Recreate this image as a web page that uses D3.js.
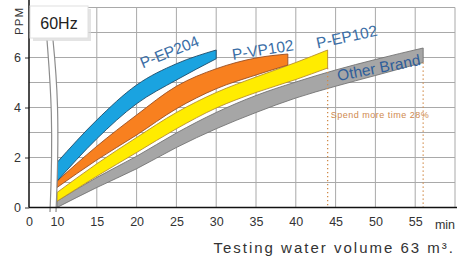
<!DOCTYPE html>
<html>
<head>
<meta charset="utf-8">
<script src="https://cdn.jsdelivr.net/npm/d3@7"></script>
<style>
  body { margin: 0; background: #fff; }
  svg { display: block; font-family: "Liberation Sans", Arial, sans-serif; }
</style>
</head>
<body>
<svg id="chart" width="457" height="259"></svg>
<script>
// values (minutes, ppm)
var ep204Time = [10, 15, 20, 25, 30];
var ep204Low  = [1.05, 2.75, 4.15, 5.1, 5.95];
var ep204High = [1.8, 3.5, 4.9, 5.75, 6.3];

var vp102Time = [10, 15, 20, 25, 30, 35, 39];
var vp102Low  = [0.8, 1.9, 2.9, 3.95, 4.75, 5.3, 5.7];
var vp102High = [1.05, 2.45, 3.7, 4.85, 5.55, 5.98, 6.14];

var ep102Time = [10, 15, 20, 25, 30, 35, 40, 44];
var ep102Low  = [0.25, 1.25, 2.2, 3.15, 3.98, 4.6, 5.12, 5.58];
var ep102High = [0.6, 1.75, 2.8, 3.8, 4.6, 5.22, 5.8, 6.3];

var otherTime = [10, 15, 20, 25, 30, 35, 40, 45, 50, 56];
var otherLow  = [0.0, 0.8, 1.55, 2.4, 3.15, 3.8, 4.38, 4.85, 5.28, 5.8];
var otherHigh = [0.25, 1.2, 2.05, 2.98, 3.8, 4.48, 5.02, 5.5, 5.92, 6.38];

var xTicks = [0, 10, 15, 20, 25, 30, 35, 40, 45, 50, 55];
var xGrid = [15, 20, 25, 30, 35, 40, 45, 50, 55, 60];
var yTicks = [0, 2, 4, 6];
var yGrid = [1, 2, 3, 4, 5, 6, 7, 8];
var markTimes = [44, 56];

var svg = d3.select("#chart");

// broken axis: 0..10 squeezed
var x = d3.scaleLinear().domain([0, 10, 60]).range([29, 57, 455]);
var y = d3.scaleLinear().domain([0, 8]).range([207.5, 7.5]);

// grid
svg.append("g").selectAll("line").data(xGrid).enter().append("line")
    .attr("x1", function(d) { return x(d); }).attr("x2", function(d) { return x(d); })
    .attr("y1", y(8)).attr("y2", y(0))
    .attr("stroke", "#a9a9a9").attr("stroke-width", 1);
svg.append("g").selectAll("line").data(yGrid).enter().append("line")
    .attr("x1", x(0)).attr("x2", x(60))
    .attr("y1", function(d) { return y(d); }).attr("y2", function(d) { return y(d); })
    .attr("stroke", "#a9a9a9").attr("stroke-width", 1);

// bands
function band(time, low, high) {
    return time.map(function(t, i) { return {t: t, lo: low[i], hi: high[i]}; });
}
var bands = [
    {data: band(otherTime, otherLow, otherHigh), fill: "#a6a6a6", stroke: "#747474"},
    {data: band(ep102Time, ep102Low, ep102High), fill: "#ffec00", stroke: "#b8902e"},
    {data: band(vp102Time, vp102Low, vp102High), fill: "#f8801f", stroke: "#9a4e22"},
    {data: band(ep204Time, ep204Low, ep204High), fill: "#1aa3e0", stroke: "#1e4c6a"}
];
var area = d3.area()
    .x(function(d) { return x(d.t); })
    .y0(function(d) { return y(d.lo); })
    .y1(function(d) { return y(d.hi); })
    .curve(d3.curveMonotoneX);

svg.append("g").selectAll("path").data(bands).enter().append("path")
    .attr("d", function(d) { return area(d.data); })
    .attr("fill", function(d) { return d.fill; })
    .attr("stroke", function(d) { return d.stroke; })
    .attr("stroke-width", 0.9);

// dotted markers
var otherEnd = otherLow[otherLow.length - 1];
svg.append("g").selectAll("line").data(markTimes).enter().append("line")
    .attr("x1", function(d) { return x(d); }).attr("x2", function(d) { return x(d); })
    .attr("y1", function(d, i) { return i == 0 ? y(ep102Low[ep102Low.length - 1]) : y(otherEnd); })
    .attr("y2", y(0))
    .attr("stroke", "#d08a48").attr("stroke-width", 1.3)
    .attr("stroke-dasharray", "1.3,2.7");

svg.append("text")
    .attr("x", x(44) + 3).attr("y", 118)
    .attr("font-size", "9px").attr("letter-spacing", "0.5px").attr("fill", "#cf8a4e")
    .text("Spend more time 28%");

// band labels
var labels = [
    {text: "P-EP204", x: 170, y: 53, r: -22, c: "#3a6ea6"},
    {text: "P-VP102", x: 263, y: 51, r: -9, c: "#3a6ea6"},
    {text: "P-EP102", x: 347, y: 38, r: -12, c: "#3a6ea6"},
    {text: "Other Brand", x: 379, y: 69, r: -11, c: "#2f5e9a"}
];
svg.append("g").selectAll("text").data(labels).enter().append("text")
    .attr("transform", function(d) { return "translate(" + d.x + "," + d.y + ") rotate(" + d.r + ")"; })
    .attr("text-anchor", "middle")
    .attr("dominant-baseline", "middle")
    .attr("font-size", "15.5px")
    .attr("fill", function(d) { return d.c; })
    .text(function(d) { return d.text; });

// axis break
var breakLeft = "M47,40 C50,80 54,120 50,212";
var breakRight = "M53,40 C57,80 60,120 56,212";
svg.append("path")
    .attr("d", breakLeft + " L56,212 C60,120 57,80 53,40 Z")
    .attr("fill", "#fff");
svg.append("path").attr("d", breakLeft).attr("fill", "none").attr("stroke", "#8c8c8c").attr("stroke-width", 1.2);
svg.append("path").attr("d", breakRight).attr("fill", "none").attr("stroke", "#8c8c8c").attr("stroke-width", 1.2);

// axes
var xAxis = d3.axisBottom(x).tickValues(xTicks).tickSize(0).tickPadding(10);
var gx = svg.append("g").attr("transform", "translate(0," + y(0) + ")").call(xAxis);
gx.select(".domain").remove();
gx.selectAll("text").attr("font-size", "12.5px").attr("fill", "#333")
    .attr("font-family", "Liberation Sans, Arial, sans-serif");

var yAxis = d3.axisLeft(y).tickValues(yTicks).tickSize(4).tickPadding(4);
var gy = svg.append("g").attr("transform", "translate(" + x(0) + ",0)").call(yAxis);
gy.select(".domain").remove();
gy.selectAll("line").attr("stroke", "#333");
gy.selectAll("text").attr("font-size", "12.5px").attr("fill", "#333")
    .attr("font-family", "Liberation Sans, Arial, sans-serif");

svg.append("line").attr("x1", x(0)).attr("x2", 457).attr("y1", y(0)).attr("y2", y(0))
    .attr("stroke", "#111").attr("stroke-width", 1.5);
svg.append("line").attr("x1", x(0)).attr("x2", x(0)).attr("y1", 0).attr("y2", y(0))
    .attr("stroke", "#111").attr("stroke-width", 1.5);

svg.append("text").attr("x", 445).attr("y", y(0) + 21)
    .attr("text-anchor", "middle").attr("font-size", "12.5px").attr("fill", "#333").text("min");

svg.append("text")
    .attr("transform", "translate(23,21) rotate(-90)")
    .attr("text-anchor", "middle")
    .attr("font-size", "11.5px").attr("letter-spacing", "1px").attr("fill", "#333")
    .text("PPM");

svg.append("text")
    .attr("x", 455).attr("y", 253)
    .attr("text-anchor", "end")
    .attr("font-size", "15px").attr("letter-spacing", "2px").attr("fill", "#333")
    .text("Testing water volume 63 m\u00b3.");

// 60Hz badge
svg.append("rect").attr("x", 33).attr("y", 9).attr("width", 58).attr("height", 32)
    .attr("fill", "#d8d8d8").attr("opacity", 0.7);
svg.append("rect").attr("x", 30).attr("y", 6).attr("width", 58).attr("height", 32)
    .attr("fill", "#fff").attr("stroke", "#e0e0e0");
svg.append("text").attr("x", 59).attr("y", 29)
    .attr("text-anchor", "middle").attr("font-size", "16px").attr("fill", "#222")
    .text("60Hz");
</script>
</body>
</html>
